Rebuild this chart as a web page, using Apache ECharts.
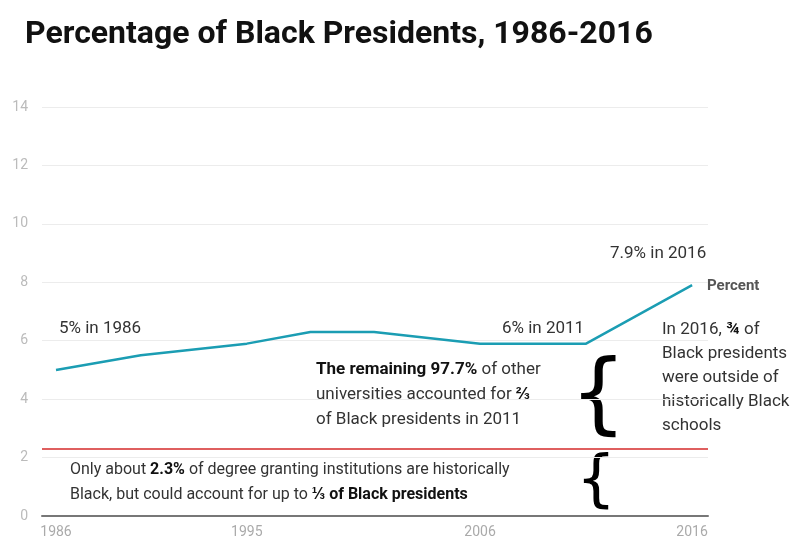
<!DOCTYPE html>
<html>
<head>
<meta charset="utf-8">
<script src="https://cdn.jsdelivr.net/npm/echarts@6/dist/echarts.min.js"></script>
<style>
  html, body { margin: 0; padding: 0; background: #fff; }
  #chart { width: 799px; height: 542px; }
</style>
</head>
<body>
<div id="chart"></div>
<script>
// data
const years = [1986, 1990, 1995, 1998, 2001, 2006, 2011, 2016];
const percent = [5.0, 5.5, 5.9, 6.3, 6.3, 5.9, 5.9, 7.9];
const yearLabels = [1986, 1995, 2006, 2016];
const hbcuShare = 2.3;

const chart = echarts.init(document.getElementById('chart'));
const textFont = 'Roboto, "Liberation Sans", sans-serif';
const ink = '#333';

const option = {
  animation: false,
  title: {
    text: 'Percentage of Black Presidents, 1986-2016',
    left: 20,
    top: 14,
    textStyle: { fontFamily: textFont, fontSize: 32, fontWeight: 'bold', color: '#111' }
  },
  grid: { left: 42, right: 91, top: 107, bottom: 26 },
  xAxis: {
    type: 'value',
    min: 1985.34,
    max: 2016.75,
    splitLine: { show: false },
    axisLine: { lineStyle: { color: '#777', width: 2 } },
    axisTick: { show: false },
    axisLabel: {
      customValues: yearLabels,
      formatter: v => String(v),
      color: '#aaa',
      fontSize: 14,
      fontFamily: textFont,
      margin: 9
    }
  },
  yAxis: {
    type: 'value',
    min: 0,
    max: 14,
    interval: 2,
    axisLine: { show: false },
    axisTick: { show: false },
    splitLine: { lineStyle: { color: '#ececec' } },
    axisLabel: { color: '#bbb', fontSize: 14, fontFamily: textFont, margin: 14 }
  },
  series: [{
    type: 'line',
    data: years.map((y, i) => [y, percent[i]]),
    symbol: 'none',
    lineStyle: { color: '#1b9db3', width: 2.5 },
    markLine: {
      silent: true,
      symbol: 'none',
      label: { show: false },
      lineStyle: { color: '#d42a2a', width: 1.5, type: 'solid' },
      data: [{ yAxis: hbcuShare }]
    }
  }],
  graphic: [
    { type: 'text', left: 59, top: 320, style: { text: '5% in 1986', font: '17px ' + textFont, fill: ink } },
    { type: 'text', left: 502, top: 320, style: { text: '6% in 2011', font: '17px ' + textFont, fill: ink } },
    { type: 'text', left: 610, top: 245, style: { text: '7.9% in 2016', font: '17px ' + textFont, fill: ink } },
    { type: 'text', left: 707, top: 279, style: { text: 'Percent', font: 'bold 15px ' + textFont, fill: '#555' } },
    {
      type: 'text', left: 662, top: 318,
      style: {
        text: 'In 2016, {b|¾} of\nBlack presidents\nwere outside of\nhistorically Black\nschools',
        font: '17px ' + textFont, fill: ink, lineHeight: 24,
        rich: { b: { fontWeight: 'bold', fontSize: 17, fontFamily: textFont, fill: '#111' } }
      }
    },
    {
      type: 'text', left: 316, top: 357,
      style: {
        text: '{b|The remaining 97.7%} of other\nuniversities accounted for {b|⅔}\nof Black presidents in 2011',
        font: '17px ' + textFont, fill: ink, lineHeight: 25,
        rich: { b: { fontWeight: 'bold', fontSize: 17, fontFamily: textFont, fill: '#111' } }
      }
    },
    {
      type: 'text', left: 70, top: 457,
      style: {
        text: 'Only about {b|2.3%} of degree granting institutions are historically\nBlack, but could account for up to {b|⅓ of Black presidents}',
        font: '16px ' + textFont, fill: ink, lineHeight: 25,
        rich: { b: { fontWeight: 'bold', fontSize: 16, fontFamily: textFont, fill: '#111' } }
      }
    },
    { type: 'text', left: 570, top: 355, style: { text: '{', font: 'normal 89px "DejaVu Sans", sans-serif', fill: '#000' } },
    { type: 'text', left: 576, top: 451, style: { text: '{', font: 'normal 63px "DejaVu Sans", sans-serif', fill: '#000' } }
  ]
};

chart.setOption(option);
</script>
</body>
</html>
